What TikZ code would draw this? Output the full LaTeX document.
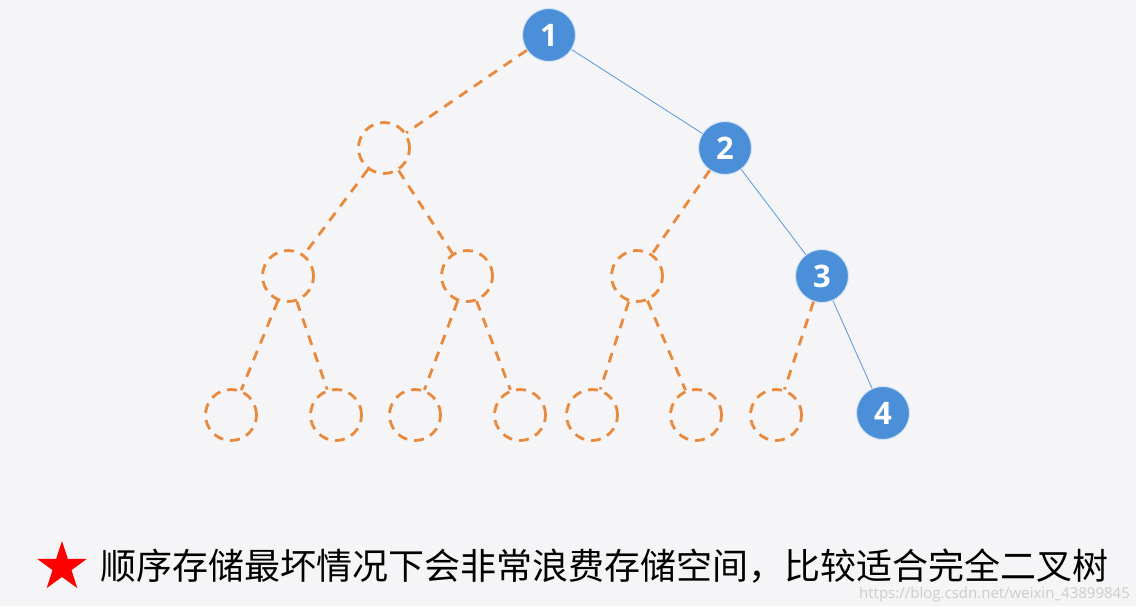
\documentclass[tikz,border=0pt]{standalone}
\usepackage{fontspec}
\setmainfont{Open Sans}
\newfontfamily\cjk{Noto Sans CJK SC}
\usetikzlibrary{shapes.geometric}
\definecolor{nodeblue}{HTML}{4A8FD8}
\definecolor{dashorange}{HTML}{E8893C}
\definecolor{bgcol}{HTML}{F5F5F7}

\begin{document}
\begin{tikzpicture}[x=1pt,y=-1pt,
				full/.style={circle,fill=nodeblue,draw=white!75!nodeblue,line width=1pt,
					minimum size=53pt,inner sep=0pt,text=white,
					font=\fontsize{31}{31}\selectfont\bfseries},
				empty/.style={circle,draw=dashorange,line width=2.8pt,
					dash pattern=on 10pt off 7pt,minimum size=51pt,inner sep=0pt},
				lk/.style={draw=nodeblue!85,line width=0.9pt},
				elk/.style={draw=dashorange,line width=2.8pt,dash pattern=on 10pt off 8pt}]
				\fill[bgcol] (0,0) rectangle (1136,606);
				% tree
				\node[full] (r) at (549,35) {1};
				\node[empty] (a) at (384,148) {};
				\node[full] (b) at (725,148) {2};
				\node[empty] (c) at (288,276) {};
				\node[empty] (d) at (467,276) {};
				\node[empty] (e) at (637,276) {};
				\node[full] (f) at (822,276) {3};
				\node[empty] (g) at (231,415) {};
				\node[empty] (h) at (336,415) {};
				\node[empty] (i) at (415,415) {};
				\node[empty] (j) at (520,415) {};
				\node[empty] (k) at (592,415) {};
				\node[empty] (l) at (696,415) {};
				\node[empty] (m) at (776,415) {};
				\node[full] (n) at (883,413) {4};
				\draw[elk] (r)--(a);
				\draw[lk] (r)--(b);
				\draw[elk] (a)--(c);
				\draw[elk] (a)--(d);
				\draw[elk] (b)--(e);
				\draw[lk] (b)--(f);
				\draw[elk] (c)--(g);
				\draw[elk] (c)--(h);
				\draw[elk] (d)--(i);
				\draw[elk] (d)--(j);
				\draw[elk] (e)--(k);
				\draw[elk] (e)--(l);
				\draw[elk] (f)--(m);
				\draw[lk] (f)--(n);
				% note
				\node[star,star points=5,star point ratio=2.6,fill=red,
					minimum size=52pt,inner sep=0pt] (s) at (62,567) {};
				\node[anchor=west,inner sep=0pt] (t) at (100,566)
					{\cjk\fontsize{36}{36}\selectfont 顺序存储最坏情况下会非常浪费存储空间，比较适合完全二叉树};
				\node[anchor=east,inner sep=0pt,text=black!20] (w) at (1130,595)
					{\fontsize{15}{15}\selectfont\mdseries https://blog.csdn.net/weixin\_43899845};
			\end{tikzpicture}
\end{document}
